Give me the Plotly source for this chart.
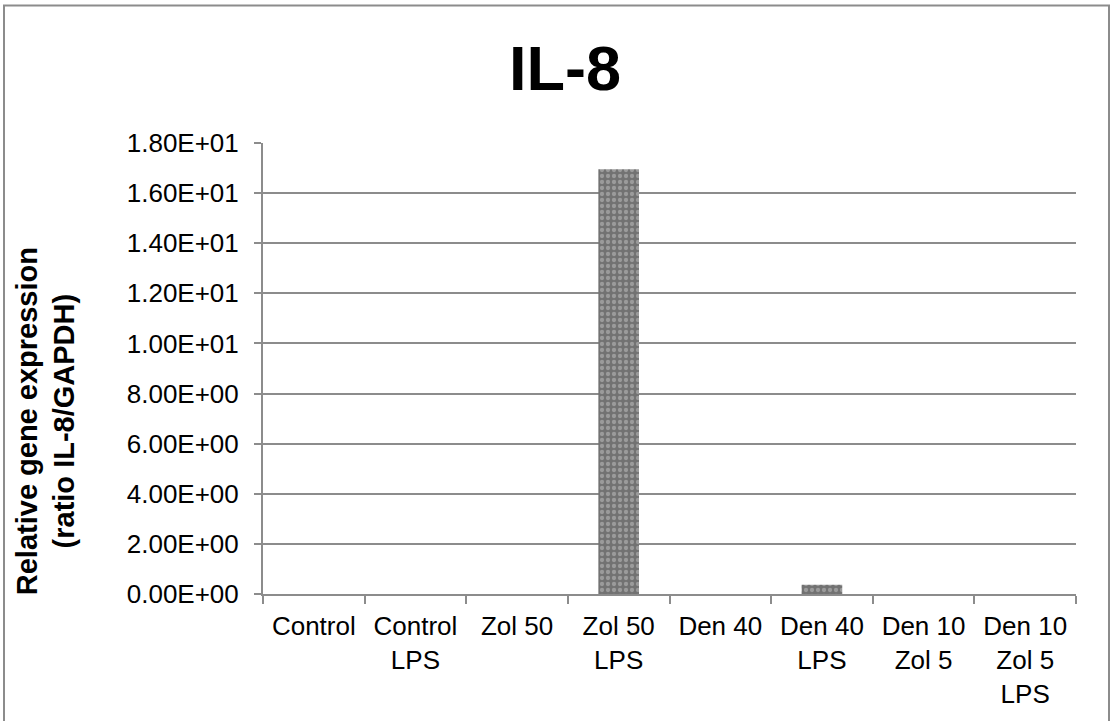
import plotly.graph_objects as go

# Treatment groups (multi-line category labels)
categories = [
    "Control", "Control<br>LPS", "Zol 50", "Zol 50<br>LPS",
    "Den 40", "Den 40<br>LPS", "Den 10<br>Zol 5", "Den 10<br>Zol 5<br>LPS",
]
# Relative IL-8 expression (IL-8 / GAPDH)
expression = [0.0, 0.0, 0.0, 16.95, 0.0, 0.37, 0.0, 0.0]

# Y-axis ticks in scientific notation
y_ticks = [0, 2, 4, 6, 8, 10, 12, 14, 16, 18]
y_tick_labels = ["{:.2E}".format(v) for v in y_ticks]

FONT = "Liberation Sans, Arial, sans-serif"
GRID = "#8c8c8c"

fig = go.Figure(
    go.Bar(
        x=categories,
        y=expression,
        marker=dict(
            color="#727272",
            line=dict(width=0),
            pattern=dict(shape=".", fgcolor="#c4c4c4", bgcolor="#727272",
                         size=6, solidity=0.4),
        ),
        width=0.4,
        hoverinfo="x+y",
    )
)

fig.update_layout(
    width=1110,
    height=721,
    margin=dict(l=263, r=34, t=143, b=124),
    paper_bgcolor="white",
    plot_bgcolor="white",
    showlegend=False,
    font=dict(family=FONT, size=26, color="black"),
    xaxis=dict(
        type="category",
        showgrid=False,
        showline=True,
        linecolor=GRID,
        linewidth=2,
        ticks="outside",
        tickson="boundaries",
        ticklen=8,
        tickcolor=GRID,
        tickwidth=2,
        tickfont=dict(size=26),
        ticklabelstandoff=8,
    ),
    yaxis=dict(
        range=[0, 18],
        tickvals=y_ticks,
        ticktext=y_tick_labels,
        showgrid=True,
        gridcolor=GRID,
        gridwidth=2,
        showline=True,
        linecolor=GRID,
        linewidth=2,
        ticks="outside",
        ticklen=7,
        tickcolor=GRID,
        tickwidth=2,
        tickfont=dict(size=26),
        ticklabelstandoff=10,
        zeroline=False,
    ),
    annotations=[
        dict(
            text="<b>IL-8</b>",
            x=(565 - 263) / 813, y=(596.7 - 68) / 453.4,
            xref="paper", yref="paper",
            showarrow=False, font=dict(size=63, family=FONT),
            xanchor="center", yanchor="middle",
        ),
        dict(
            text="<b>Relative gene expression<br>(ratio IL-8/GAPDH)</b>",
            x=(46 - 263) / 813, y=(596.7 - 423) / 453.4,
            xref="paper", yref="paper",
            showarrow=False, textangle=-90,
            font=dict(size=29, family=FONT),
            xanchor="center", yanchor="middle",
        ),
    ],
    shapes=[
        dict(
            type="rect", xref="paper", yref="paper",
            x0=(4 - 263) / 813, x1=(1109 - 263) / 813,
            y0=(596.7 - 730) / 453.4, y1=(596.7 - 5) / 453.4,
            line=dict(color="#8c8c8c", width=2),
            fillcolor="rgba(0,0,0,0)",
            layer="below",
        )
    ],
)

fig.write_html("out.html")
